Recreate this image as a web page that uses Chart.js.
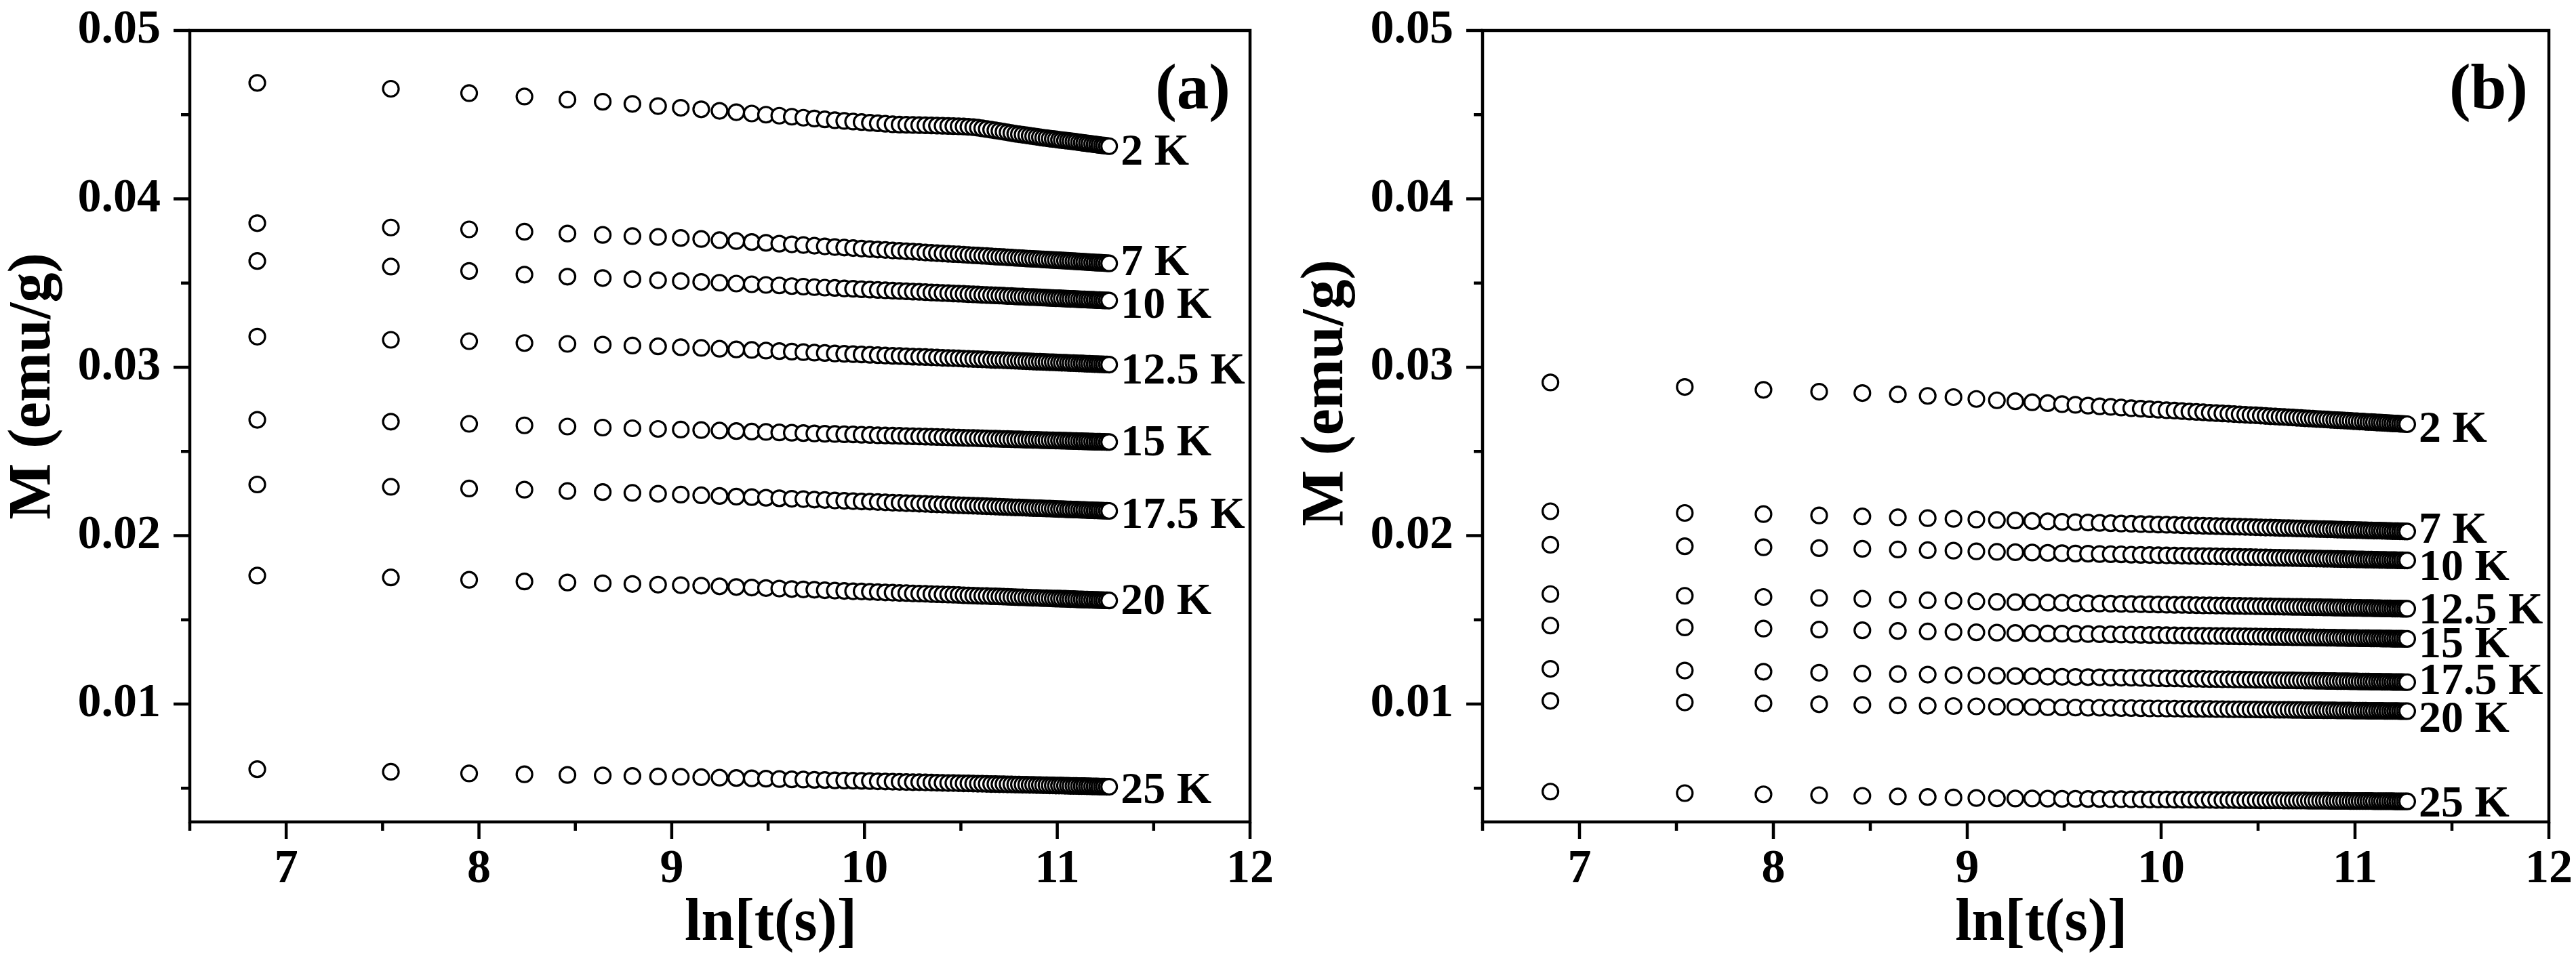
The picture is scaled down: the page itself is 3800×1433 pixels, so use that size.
<!DOCTYPE html>
<html>
<head>
<meta charset="utf-8">
<script src="https://cdn.jsdelivr.net/npm/chart.js@4.4.1/dist/chart.umd.min.js"></script>
<style>
html,body{margin:0;padding:0;background:#fff;}
#wrap{position:relative;width:3800px;height:1433px;background:#fff;overflow:hidden;}
canvas{position:absolute;top:0;width:1900px;height:1433px;}
#ca{left:0;}
#cb{left:1900px;}
</style>
</head>
<body>
<div id="wrap"><canvas id="ca" width="1900" height="1433"></canvas><canvas id="cb" width="1900" height="1433"></canvas></div>
<script>
// ---- x values: ln[t(s)] of the 83 readings (shared by all series) ----
const lnT = [
6.850,7.543,7.949,8.236,8.459,8.642,8.796,8.929,9.047,9.153,
9.248,9.335,9.415,9.489,9.558,9.623,9.683,9.740,9.794,9.846,
9.895,9.941,9.985,10.028,10.069,10.108,10.146,10.182,10.217,10.251,
10.284,10.316,10.347,10.376,10.405,10.434,10.461,10.488,10.514,10.539,
10.564,10.588,10.611,10.634,10.657,10.679,10.700,10.721,10.742,10.762,
10.782,10.801,10.820,10.839,10.857,10.875,10.893,10.910,10.927,10.944,
10.961,10.977,10.993,11.009,11.024,11.040,11.055,11.069,11.084,11.098,
11.113,11.127,11.140,11.154,11.167,11.181,11.194,11.207,11.219,11.232,
11.244,11.257,11.269];

const tempLabels = ['2 K','7 K','10 K','12.5 K','15 K','17.5 K','20 K','25 K'];
const panelTags = ['(a)','(b)'];
const xTickValues = [7,8,9,10,11,12];
const xMinorValues = [6.5,7.5,8.5,9.5,10.5,11.5];
const yTickValues = [0.01,0.02,0.03,0.04,0.05];
const yMinorValues = [0.005,0.015,0.025,0.035,0.045];
const xTitle = 'ln[t(s)]';
const yTitle = 'M (emu/g)';

// ---- panel (a): M (emu/g) ----
const a2K = [
0.04689,0.04654,0.04628,0.04608,0.04590,0.04577,0.04564,0.04551,0.04541,0.04532,
0.04523,0.04515,0.04507,0.04500,0.04494,0.04488,0.04482,0.04477,0.04472,0.04467,
0.04463,0.04459,0.04456,0.04452,0.04449,0.04446,0.04443,0.04441,0.04440,0.04439,
0.04438,0.04437,0.04436,0.04435,0.04434,0.04433,0.04432,0.04431,0.04430,0.04428,
0.04426,0.04423,0.04419,0.04415,0.04411,0.04407,0.04403,0.04399,0.04395,0.04391,
0.04387,0.04384,0.04381,0.04378,0.04375,0.04372,0.04369,0.04366,0.04363,0.04361,
0.04358,0.04356,0.04354,0.04351,0.04349,0.04347,0.04345,0.04343,0.04341,0.04339,
0.04336,0.04334,0.04332,0.04330,0.04328,0.04326,0.04324,0.04322,0.04320,0.04318,
0.04317,0.04315,0.04313];
const a7K = [
0.03856,0.03830,0.03819,0.03805,0.03794,0.03786,0.03779,0.03774,0.03768,0.03762,
0.03755,0.03750,0.03744,0.03739,0.03734,0.03730,0.03726,0.03722,0.03718,0.03714,
0.03711,0.03708,0.03705,0.03702,0.03699,0.03697,0.03694,0.03692,0.03689,0.03687,
0.03685,0.03682,0.03680,0.03678,0.03676,0.03674,0.03672,0.03671,0.03669,0.03667,
0.03665,0.03664,0.03662,0.03661,0.03659,0.03657,0.03656,0.03655,0.03653,0.03652,
0.03650,0.03649,0.03648,0.03646,0.03645,0.03644,0.03643,0.03642,0.03640,0.03639,
0.03638,0.03637,0.03636,0.03635,0.03634,0.03633,0.03632,0.03631,0.03630,0.03629,
0.03628,0.03627,0.03626,0.03625,0.03624,0.03623,0.03622,0.03621,0.03621,0.03620,
0.03619,0.03618,0.03617];
const a10K = [
0.03631,0.03598,0.03572,0.03550,0.03538,0.03530,0.03523,0.03517,0.03512,0.03507,
0.03502,0.03497,0.03493,0.03489,0.03486,0.03482,0.03479,0.03476,0.03473,0.03471,
0.03468,0.03466,0.03463,0.03461,0.03459,0.03457,0.03455,0.03453,0.03451,0.03449,
0.03448,0.03446,0.03444,0.03443,0.03441,0.03440,0.03438,0.03437,0.03436,0.03434,
0.03433,0.03432,0.03430,0.03429,0.03428,0.03427,0.03426,0.03425,0.03423,0.03423,
0.03421,0.03420,0.03420,0.03418,0.03417,0.03417,0.03416,0.03415,0.03414,0.03413,
0.03412,0.03411,0.03410,0.03410,0.03409,0.03408,0.03407,0.03406,0.03406,0.03405,
0.03404,0.03403,0.03403,0.03402,0.03401,0.03401,0.03400,0.03399,0.03399,0.03398,
0.03397,0.03397,0.03396];
const a12_5K = [
0.03182,0.03163,0.03155,0.03144,0.03139,0.03134,0.03129,0.03124,0.03119,0.03115,
0.03110,0.03106,0.03103,0.03099,0.03096,0.03093,0.03090,0.03087,0.03085,0.03082,
0.03080,0.03078,0.03076,0.03074,0.03072,0.03070,0.03068,0.03067,0.03065,0.03063,
0.03062,0.03061,0.03059,0.03058,0.03056,0.03055,0.03054,0.03053,0.03051,0.03050,
0.03049,0.03048,0.03047,0.03046,0.03044,0.03043,0.03043,0.03042,0.03041,0.03040,
0.03039,0.03038,0.03037,0.03036,0.03035,0.03034,0.03033,0.03033,0.03032,0.03031,
0.03030,0.03030,0.03029,0.03028,0.03027,0.03027,0.03026,0.03025,0.03025,0.03024,
0.03023,0.03023,0.03022,0.03021,0.03021,0.03020,0.03019,0.03019,0.03018,0.03018,
0.03017,0.03017,0.03016];
const a15K = [
0.02688,0.02677,0.02664,0.02655,0.02648,0.02642,0.02638,0.02634,0.02630,0.02627,
0.02624,0.02621,0.02618,0.02616,0.02613,0.02611,0.02609,0.02607,0.02605,0.02604,
0.02602,0.02601,0.02599,0.02598,0.02596,0.02595,0.02594,0.02593,0.02591,0.02590,
0.02589,0.02588,0.02587,0.02586,0.02585,0.02584,0.02583,0.02582,0.02581,0.02580,
0.02580,0.02579,0.02578,0.02577,0.02576,0.02576,0.02575,0.02574,0.02574,0.02573,
0.02572,0.02572,0.02571,0.02570,0.02570,0.02569,0.02569,0.02568,0.02567,0.02567,
0.02566,0.02566,0.02565,0.02565,0.02564,0.02564,0.02563,0.02563,0.02562,0.02562,
0.02561,0.02561,0.02560,0.02560,0.02559,0.02559,0.02558,0.02558,0.02558,0.02557,
0.02557,0.02556,0.02556];
const a17_5K = [
0.02304,0.02290,0.02280,0.02273,0.02265,0.02259,0.02254,0.02249,0.02244,0.02240,
0.02236,0.02232,0.02229,0.02225,0.02222,0.02219,0.02217,0.02214,0.02212,0.02209,
0.02207,0.02205,0.02203,0.02202,0.02200,0.02198,0.02196,0.02195,0.02193,0.02192,
0.02190,0.02189,0.02187,0.02186,0.02185,0.02184,0.02182,0.02181,0.02180,0.02179,
0.02178,0.02177,0.02176,0.02175,0.02174,0.02173,0.02172,0.02171,0.02170,0.02169,
0.02168,0.02168,0.02167,0.02166,0.02165,0.02164,0.02163,0.02163,0.02162,0.02161,
0.02161,0.02160,0.02159,0.02158,0.02158,0.02157,0.02156,0.02156,0.02155,0.02155,
0.02154,0.02153,0.02153,0.02152,0.02151,0.02151,0.02150,0.02150,0.02149,0.02149,
0.02148,0.02148,0.02147];
const a20K = [
0.01763,0.01752,0.01738,0.01728,0.01722,0.01717,0.01713,0.01709,0.01706,0.01703,
0.01699,0.01695,0.01692,0.01689,0.01686,0.01683,0.01681,0.01679,0.01676,0.01674,
0.01672,0.01670,0.01669,0.01667,0.01665,0.01663,0.01662,0.01660,0.01659,0.01657,
0.01656,0.01655,0.01653,0.01652,0.01651,0.01650,0.01649,0.01648,0.01646,0.01645,
0.01644,0.01643,0.01642,0.01642,0.01640,0.01640,0.01639,0.01638,0.01637,0.01636,
0.01635,0.01634,0.01634,0.01633,0.01632,0.01631,0.01631,0.01630,0.01629,0.01629,
0.01628,0.01627,0.01626,0.01626,0.01625,0.01625,0.01624,0.01623,0.01623,0.01622,
0.01621,0.01621,0.01620,0.01620,0.01619,0.01619,0.01618,0.01618,0.01617,0.01617,
0.01616,0.01616,0.01615];
const a25K = [
0.00613,0.00598,0.00588,0.00583,0.00579,0.00576,0.00573,0.00570,0.00568,0.00566,
0.00563,0.00561,0.00559,0.00557,0.00555,0.00553,0.00552,0.00550,0.00549,0.00547,
0.00546,0.00545,0.00544,0.00543,0.00541,0.00540,0.00539,0.00538,0.00537,0.00536,
0.00536,0.00535,0.00534,0.00533,0.00532,0.00531,0.00531,0.00530,0.00529,0.00529,
0.00528,0.00527,0.00527,0.00526,0.00525,0.00525,0.00524,0.00524,0.00523,0.00523,
0.00522,0.00522,0.00521,0.00521,0.00520,0.00520,0.00519,0.00519,0.00518,0.00518,
0.00517,0.00517,0.00516,0.00516,0.00516,0.00515,0.00515,0.00514,0.00514,0.00514,
0.00513,0.00513,0.00513,0.00512,0.00512,0.00511,0.00511,0.00511,0.00510,0.00510,
0.00510,0.00509,0.00509];

// ---- panel (b): M (emu/g) ----
const b2K = [
0.02910,0.02883,0.02866,0.02855,0.02847,0.02839,0.02830,0.02823,0.02812,0.02804,
0.02798,0.02792,0.02787,0.02781,0.02777,0.02772,0.02768,0.02765,0.02761,0.02757,
0.02754,0.02751,0.02748,0.02745,0.02743,0.02740,0.02737,0.02735,0.02733,0.02730,
0.02728,0.02726,0.02724,0.02722,0.02720,0.02718,0.02716,0.02715,0.02713,0.02711,
0.02709,0.02708,0.02706,0.02705,0.02703,0.02702,0.02700,0.02699,0.02697,0.02696,
0.02695,0.02693,0.02692,0.02691,0.02690,0.02688,0.02687,0.02686,0.02685,0.02684,
0.02683,0.02682,0.02680,0.02680,0.02678,0.02678,0.02676,0.02675,0.02675,0.02674,
0.02672,0.02672,0.02671,0.02670,0.02669,0.02668,0.02667,0.02666,0.02666,0.02664,
0.02664,0.02663,0.02662];
const b7K = [
0.02145,0.02135,0.02128,0.02120,0.02114,0.02109,0.02104,0.02100,0.02096,0.02093,
0.02090,0.02087,0.02085,0.02082,0.02080,0.02078,0.02076,0.02074,0.02072,0.02071,
0.02069,0.02068,0.02066,0.02065,0.02064,0.02062,0.02061,0.02060,0.02059,0.02058,
0.02057,0.02056,0.02055,0.02054,0.02053,0.02052,0.02051,0.02050,0.02049,0.02048,
0.02048,0.02047,0.02046,0.02045,0.02045,0.02044,0.02043,0.02043,0.02042,0.02041,
0.02041,0.02040,0.02039,0.02039,0.02038,0.02038,0.02037,0.02036,0.02036,0.02035,
0.02035,0.02034,0.02034,0.02033,0.02033,0.02032,0.02032,0.02031,0.02031,0.02030,
0.02030,0.02030,0.02029,0.02029,0.02028,0.02028,0.02027,0.02027,0.02027,0.02026,
0.02026,0.02025,0.02025];
const b10K = [
0.01946,0.01937,0.01931,0.01926,0.01922,0.01918,0.01914,0.01911,0.01907,0.01904,
0.01902,0.01900,0.01898,0.01896,0.01894,0.01893,0.01891,0.01890,0.01889,0.01887,
0.01886,0.01885,0.01884,0.01883,0.01882,0.01881,0.01880,0.01879,0.01878,0.01878,
0.01877,0.01876,0.01875,0.01875,0.01874,0.01873,0.01873,0.01872,0.01871,0.01871,
0.01870,0.01869,0.01869,0.01868,0.01868,0.01867,0.01867,0.01866,0.01866,0.01865,
0.01865,0.01864,0.01864,0.01863,0.01863,0.01863,0.01862,0.01862,0.01861,0.01861,
0.01860,0.01860,0.01860,0.01859,0.01859,0.01859,0.01858,0.01858,0.01858,0.01857,
0.01857,0.01856,0.01856,0.01856,0.01855,0.01855,0.01855,0.01855,0.01854,0.01854,
0.01854,0.01853,0.01853];
const b12_5K = [
0.01653,0.01643,0.01636,0.01630,0.01625,0.01620,0.01616,0.01613,0.01610,0.01607,
0.01605,0.01604,0.01602,0.01601,0.01599,0.01598,0.01597,0.01596,0.01595,0.01594,
0.01593,0.01592,0.01591,0.01590,0.01589,0.01589,0.01588,0.01587,0.01586,0.01586,
0.01585,0.01585,0.01584,0.01583,0.01583,0.01582,0.01582,0.01581,0.01581,0.01580,
0.01580,0.01579,0.01579,0.01578,0.01578,0.01577,0.01577,0.01577,0.01576,0.01576,
0.01575,0.01575,0.01575,0.01574,0.01574,0.01574,0.01573,0.01573,0.01573,0.01572,
0.01572,0.01572,0.01571,0.01571,0.01571,0.01570,0.01570,0.01570,0.01570,0.01569,
0.01569,0.01569,0.01568,0.01568,0.01568,0.01568,0.01567,0.01567,0.01567,0.01567,
0.01566,0.01566,0.01566];
const b15K = [
0.01466,0.01455,0.01448,0.01442,0.01438,0.01434,0.01431,0.01428,0.01426,0.01424,
0.01422,0.01421,0.01419,0.01418,0.01417,0.01416,0.01415,0.01414,0.01413,0.01412,
0.01411,0.01410,0.01410,0.01409,0.01408,0.01407,0.01407,0.01406,0.01405,0.01405,
0.01404,0.01404,0.01403,0.01403,0.01402,0.01402,0.01401,0.01401,0.01400,0.01400,
0.01399,0.01399,0.01399,0.01398,0.01398,0.01397,0.01397,0.01397,0.01396,0.01396,
0.01396,0.01395,0.01395,0.01395,0.01394,0.01394,0.01394,0.01393,0.01393,0.01393,
0.01392,0.01392,0.01392,0.01392,0.01391,0.01391,0.01391,0.01391,0.01390,0.01390,
0.01390,0.01390,0.01389,0.01389,0.01389,0.01389,0.01388,0.01388,0.01388,0.01388,
0.01388,0.01387,0.01387];
const b17_5K = [
0.01209,0.01199,0.01192,0.01186,0.01181,0.01178,0.01175,0.01172,0.01170,0.01168,
0.01166,0.01165,0.01163,0.01162,0.01161,0.01160,0.01159,0.01157,0.01157,0.01156,
0.01155,0.01154,0.01153,0.01152,0.01152,0.01151,0.01150,0.01150,0.01149,0.01148,
0.01148,0.01147,0.01147,0.01146,0.01146,0.01145,0.01145,0.01144,0.01144,0.01143,
0.01143,0.01142,0.01142,0.01141,0.01141,0.01141,0.01140,0.01140,0.01139,0.01139,
0.01139,0.01138,0.01138,0.01138,0.01137,0.01137,0.01137,0.01136,0.01136,0.01136,
0.01136,0.01135,0.01135,0.01135,0.01134,0.01134,0.01134,0.01134,0.01133,0.01133,
0.01133,0.01133,0.01132,0.01132,0.01132,0.01132,0.01131,0.01131,0.01131,0.01131,
0.01131,0.01130,0.01130];
const b20K = [
0.01019,0.01010,0.01004,0.00999,0.00995,0.00992,0.00990,0.00988,0.00986,0.00984,
0.00983,0.00982,0.00981,0.00980,0.00979,0.00978,0.00978,0.00977,0.00976,0.00976,
0.00975,0.00974,0.00974,0.00973,0.00973,0.00972,0.00972,0.00971,0.00971,0.00971,
0.00970,0.00970,0.00969,0.00969,0.00969,0.00968,0.00968,0.00968,0.00967,0.00967,
0.00967,0.00966,0.00966,0.00966,0.00966,0.00965,0.00965,0.00965,0.00964,0.00964,
0.00964,0.00964,0.00964,0.00963,0.00963,0.00963,0.00963,0.00962,0.00962,0.00962,
0.00962,0.00962,0.00961,0.00961,0.00961,0.00961,0.00961,0.00960,0.00960,0.00960,
0.00960,0.00960,0.00960,0.00959,0.00959,0.00959,0.00959,0.00959,0.00959,0.00958,
0.00958,0.00958,0.00958];
const b25K = [
0.00480,0.00471,0.00464,0.00459,0.00455,0.00451,0.00448,0.00445,0.00442,0.00440,
0.00439,0.00439,0.00438,0.00437,0.00437,0.00436,0.00436,0.00435,0.00435,0.00434,
0.00434,0.00433,0.00433,0.00433,0.00432,0.00432,0.00432,0.00431,0.00431,0.00431,
0.00430,0.00430,0.00430,0.00430,0.00429,0.00429,0.00429,0.00429,0.00428,0.00428,
0.00428,0.00428,0.00428,0.00427,0.00427,0.00427,0.00427,0.00427,0.00427,0.00426,
0.00426,0.00426,0.00426,0.00426,0.00426,0.00425,0.00425,0.00425,0.00425,0.00425,
0.00425,0.00424,0.00424,0.00424,0.00424,0.00424,0.00424,0.00424,0.00424,0.00423,
0.00423,0.00423,0.00423,0.00423,0.00423,0.00423,0.00423,0.00422,0.00422,0.00422,
0.00422,0.00422,0.00422];

const seriesA = [a2K, a7K, a10K, a12_5K, a15K, a17_5K, a20K, a25K];
const seriesB = [b2K, b7K, b10K, b12_5K, b15K, b17_5K, b20K, b25K];

// ---- layout / style (pixels) ----
const FONT = '"Liberation Serif", "Times New Roman", serif';
const styleA = { yAxisWidth: 280, padRight: 56, labelDy: [5,-5,3,6,-2,3,-2,2],
  tagRightGap: 29, xTitleFrac: 0.548, yTitleX: 73, yTitleY: 570 };
const styleB = { yAxisWidth: 287, padRight: 40, labelDy: [4,-5,7,0,5,-5,9,0],
  tagRightGap: 31, xTitleFrac: 0.524, yTitleX: 80, yTitleY: 580 };

Chart.defaults.font.family = FONT;
Chart.defaults.color = '#000';

function zeroPad(s) { s.paddingTop = 0; s.paddingBottom = 0; s.paddingLeft = 0; s.paddingRight = 0; }

function decorPlugin(tag, st) {
  return {
    id: 'decor',
    afterDatasetsDraw(chart) {
      const ctx = chart.ctx;
      const ca = chart.chartArea;
      const xs = chart.scales.x, ys = chart.scales.y;
      ctx.save();
      ctx.strokeStyle = '#000';
      ctx.fillStyle = '#000';
      ctx.lineJoin = 'miter';
      ctx.lineCap = 'butt';
      // frame
      ctx.lineWidth = 4.5;
      ctx.strokeRect(ca.left, ca.top, ca.right - ca.left, ca.bottom - ca.top);
      // outward major / minor ticks
      ctx.beginPath();
      yTickValues.forEach(v => { const p = ys.getPixelForValue(v); ctx.moveTo(ca.left, p); ctx.lineTo(ca.left - 24, p); });
      yMinorValues.forEach(v => { const p = ys.getPixelForValue(v); ctx.moveTo(ca.left, p); ctx.lineTo(ca.left - 13, p); });
      xTickValues.forEach(v => { const p = xs.getPixelForValue(v); ctx.moveTo(p, ca.bottom); ctx.lineTo(p, ca.bottom + 25); });
      xMinorValues.forEach(v => { const p = xs.getPixelForValue(v); ctx.moveTo(p, ca.bottom); ctx.lineTo(p, ca.bottom + 13); });
      ctx.stroke();
      // temperature labels next to the last point of each series
      ctx.font = 'bold 66px ' + FONT;
      ctx.textAlign = 'left';
      ctx.textBaseline = 'alphabetic';
      chart.data.datasets.forEach((ds, i) => {
        const meta = chart.getDatasetMeta(i);
        const last = meta.data[meta.data.length - 1];
        ctx.fillText(tempLabels[i], last.x + 17, last.y + st.labelDy[i] + 22);
      });
      // panel tag
      ctx.font = 'bold 95px ' + FONT;
      ctx.textAlign = 'right';
      ctx.fillText(tag, ca.right - st.tagRightGap, 160);
      // axis titles
      ctx.font = 'bold 88px ' + FONT;
      ctx.textAlign = 'center';
      ctx.fillText(xTitle, ca.left + st.xTitleFrac * (ca.right - ca.left), 1387);
      ctx.translate(st.yTitleX, st.yTitleY);
      ctx.rotate(-Math.PI / 2);
      ctx.fillText(yTitle, 0, 0);
      ctx.restore();
    }
  };
}

function makeChart(id, series, tag, st) {
  const datasets = series.map((vals, i) => ({
    label: tempLabels[i],
    data: vals.map((m, k) => ({ x: lnT[k], y: m })),
    pointRadius: 11.5,
    pointHoverRadius: 11.5,
    pointBorderWidth: 3.2,
    pointBackgroundColor: '#ffffff',
    pointBorderColor: '#000000',
    showLine: false
  }));
  const tickFont = { family: FONT, size: 70, weight: 'bold' };
  return new Chart(document.getElementById(id), {
    type: 'scatter',
    data: { datasets },
    options: {
      responsive: false,
      devicePixelRatio: 1,
      animation: false,
      events: [],
      layout: { padding: { left: 0, top: 45, right: st.padRight, bottom: 0 } },
      plugins: { legend: { display: false }, tooltip: { enabled: false } },
      scales: {
        x: {
          type: 'linear', min: 6.5, max: 12,
          afterBuildTicks: s => { s.ticks = xTickValues.map(v => ({ value: v })); },
          afterFit: s => { s.height = 220; zeroPad(s); },
          grid: { display: false, drawTicks: false },
          border: { display: false },
          ticks: { autoSkip: false, maxRotation: 0, padding: 29, font: tickFont, color: '#000',
                   callback: v => String(v) }
        },
        y: {
          type: 'linear', min: 0.003, max: 0.05,
          afterBuildTicks: s => { s.ticks = yTickValues.map(v => ({ value: v })); },
          afterFit: s => { s.width = st.yAxisWidth; zeroPad(s); },
          grid: { display: false, drawTicks: false },
          border: { display: false },
          ticks: { autoSkip: false, padding: 43, font: tickFont, color: '#000',
                   callback: v => Number(v).toFixed(2) }
        }
      }
    },
    plugins: [decorPlugin(tag, st)]
  });
}

makeChart('ca', seriesA, panelTags[0], styleA);
makeChart('cb', seriesB, panelTags[1], styleB);
</script>
</body>
</html>
